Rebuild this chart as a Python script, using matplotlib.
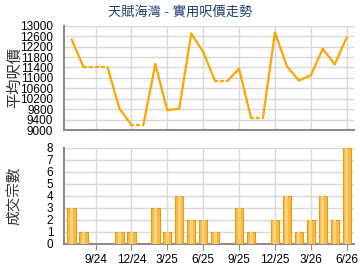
import matplotlib
matplotlib.use("Agg")
import matplotlib.pyplot as plt
import numpy as np

plt.rcParams['font.family'] = ['Liberation Sans', 'Noto Sans CJK TC', 'DejaVu Sans']

# monthly data, 7/24 .. 6/26 (None = no transaction that month)
months = ['7/24', '8/24', '9/24', '10/24', '11/24', '12/24',
          '1/25', '2/25', '3/25', '4/25', '5/25', '6/25',
          '7/25', '8/25', '9/25', '10/25', '11/25', '12/25',
          '1/26', '2/26', '3/26', '4/26', '5/26', '6/26']
price = [12480, 11410, None, None, 9820, 9200,
         None, 11530, 9760, 9820, 12700, 12000,
         10870, None, 11350, 9470, None, 12740,
         11450, 10900, 11100, 12120, 11520, 12550]
deals = [3, 1, 0, 0, 1, 1,
         0, 3, 1, 4, 2, 2,
         1, 0, 3, 1, 0, 2,
         4, 1, 2, 4, 2, 8]
tick_labels = ['9/24', '12/24', '3/25', '6/25', '9/25', '12/25', '3/26', '6/26']

x = np.arange(len(months))
tick_pos = [months.index(t) for t in tick_labels]

# carry forward last price for months without deals (drawn dotted)
filled = []
last = None
for p in price:
    if p is not None:
        last = p
    filled.append(last)

line_col = '#FFA500'
grid_col = '#D9D9D9'
spine_col = '#8C8C8C'

fig = plt.figure(figsize=(3.6, 2.7), dpi=100)
ax1 = fig.add_axes([0.179, 0.5185, 0.804, 0.386])
ax2 = fig.add_axes([0.179, 0.0963, 0.804, 0.357])

for i in range(len(x) - 1):
    style = ':' if price[i + 1] is None else '-'
    ax1.plot(x[i:i + 2], filled[i:i + 2], color=line_col, lw=1.6, ls=style,
             solid_capstyle='round', dash_capstyle='round')

ax2.bar(x, deals, width=0.7, color='#F8BC45', edgecolor='#E89A10', linewidth=0.8, zorder=3)
ax2.bar(x, deals, width=0.25, color='#FAD27E', linewidth=0, zorder=4)

for ax in (ax1, ax2):
    ax.set_xlim(-0.6, len(x) - 0.4)
    for s in ('top', 'right'):
        ax.spines[s].set_visible(False)
    for s in ('left', 'bottom'):
        ax.spines[s].set_color(spine_col)
        ax.spines[s].set_linewidth(1.5)
    ax.set_xticks(tick_pos)
    ax.grid(True, color=grid_col, lw=1)
    ax.set_axisbelow(True)
    ax.tick_params(axis='y', length=0, labelsize=8.5, pad=8)
    ax.tick_params(axis='x', length=4, color=spine_col, labelsize=8.5, pad=3)

ax1.set_ylim(9000, 13000)
ax1.set_yticks(np.arange(9000, 13001, 400))
ax1.tick_params(axis='x', length=0, labelbottom=False)
ax1.set_ylabel('平均呎價', fontsize=11, color='#333333', va='center')
ax1.yaxis.set_label_coords(-0.172, 0.5)

ax2.set_ylim(0, 8)
ax2.set_yticks(range(0, 9))
ax2.set_xticklabels(tick_labels)
ax2.set_ylabel('成交宗數', fontsize=10.5, color='#333333', va='center')
ax2.yaxis.set_label_coords(-0.172, 0.5)

fig.text(0.5, 0.955, '天賦海灣 - 實用呎價走勢', ha='center', va='center',
         fontsize=9.5, color='#1F3F6E')

fig.savefig('out.png', dpi=100)
